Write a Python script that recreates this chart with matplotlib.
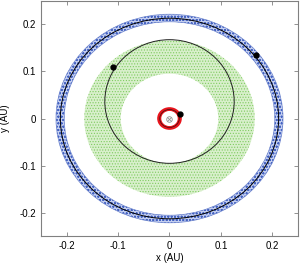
import numpy as np
import matplotlib.pyplot as plt
from matplotlib.patches import Annulus, Ellipse, Circle

plt.rcParams['font.family'] = ['Liberation Sans', 'DejaVu Sans']
plt.rcParams['hatch.linewidth'] = 0.5

# values (AU)
star_xy = (0.0, 0.0)

# inner planet (red band)
inner_band = (0.016, 0.024)          # inner / outer radius
inner_orbit_r = 0.019
inner_planet_xy = (0.021, 0.009)

# middle planet (green band, eccentric orbit)
middle_band = (0.095, 0.166)
middle_a = 0.131
middle_e = 0.275
middle_peri_angle = -90.0            # degrees
middle_planet_xy = (-0.110, 0.109)

# outer planet (blue band)
outer_band = (0.205, 0.221)
outer_orbit_r = 0.2125
outer_planet_xy = (0.1675, 0.134)

ticks = [-0.2, -0.1, 0, 0.1, 0.2]
tick_labels = ['-0.2', '-0.1', '0', '0.1', '0.2']

fig = plt.figure(figsize=(3.0, 2.66), dpi=100)
ax = fig.add_axes([0.137, 0.111, 0.856, 0.887])

# blue band of open circles
r_in, r_out = outer_band
ax.add_patch(Annulus(star_xy, r_out, r_out - r_in, facecolor='#c4cff0',
                     edgecolor='#4563c2', hatch='ooooo', lw=0))
ax.add_patch(Circle(star_xy, r_out, fill=False, edgecolor='#6a82cc', lw=0.5))
ax.add_patch(Circle(star_xy, r_in, fill=False, edgecolor='#6a82cc', lw=0.5))
ax.add_patch(Circle(star_xy, outer_orbit_r, fill=False, edgecolor='black', lw=0.7))

# green band
r_in, r_out = middle_band
ax.add_patch(Annulus(star_xy, r_out, r_out - r_in, facecolor='#d8efcb',
                     edgecolor='#7fcc60', hatch='......', lw=0))
b = middle_a * np.sqrt(1 - middle_e ** 2)
c = middle_a * middle_e
th = np.deg2rad(middle_peri_angle + 180)
ax.add_patch(Ellipse((c * np.cos(th), c * np.sin(th)), 2 * middle_a, 2 * b,
                     angle=middle_peri_angle, fill=False, edgecolor='#202020', lw=0.7))

# red band
r_in, r_out = inner_band
ax.add_patch(Annulus(star_xy, r_out, r_out - r_in, facecolor='#e8141c', lw=0))
ax.add_patch(Circle(star_xy, inner_orbit_r, fill=False, edgecolor='#401010', lw=0.5))

# star
ax.plot(*star_xy, marker='o', ms=4, mfc='none', mec='#909090', mew=0.6)
ax.plot(*star_xy, marker='x', ms=2.5, mec='#909090', mew=0.6)

# planets
for xy in (inner_planet_xy, middle_planet_xy, outer_planet_xy):
    ax.plot(*xy, marker='o', ms=3.5, color='black', zorder=5)

ax.set_xlim(-0.25, 0.25)
ax.set_ylim(-0.25, 0.25)
ax.set_xticks(ticks, tick_labels)
ax.set_yticks(ticks, tick_labels)
ax.tick_params(direction='in', length=3, width=0.6, color='#808080',
               labelsize=7, top=True, right=True, pad=3.5)
for s in ax.spines.values():
    s.set_color('#808080')
    s.set_linewidth(0.8)
ax.set_xlabel('x (AU)', fontsize=7, labelpad=1)
ax.set_ylabel('y (AU)', fontsize=7, labelpad=7)

fig.savefig('out.png', dpi=100)
